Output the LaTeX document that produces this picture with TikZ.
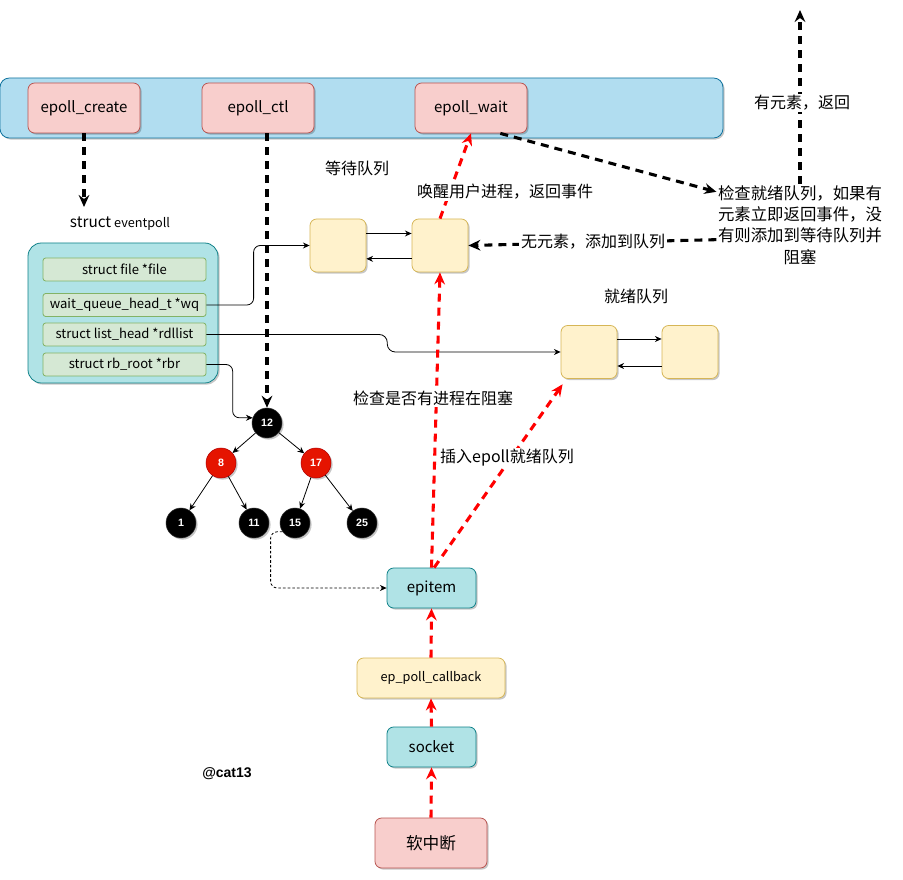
\documentclass[tikz,border=0pt]{standalone}
\usepackage{fontspec}
\setmainfont{Noto Sans CJK SC}
\setsansfont{Liberation Sans}
\usepackage{tikz}
\usetikzlibrary{arrows.meta, positioning, shadows}
\definecolor{barblue}{HTML}{B1DDF0}
\definecolor{barline}{HTML}{10739E}
\definecolor{fnpink}{HTML}{F8CECC}
\definecolor{fnline}{HTML}{B85450}
\definecolor{itcyan}{HTML}{B0E3E6}
\definecolor{itline}{HTML}{0E8088}
\definecolor{qyellow}{HTML}{FFF2CC}
\definecolor{qline}{HTML}{D6B656}
\definecolor{fdgreen}{HTML}{D5E8D4}
\definecolor{fdline}{HTML}{82B366}
\definecolor{rbred}{HTML}{E51400}
\definecolor{rbredline}{HTML}{B20000}

\tikzset{
  softshadow/.style={drop shadow={shadow xshift=1.2pt, shadow yshift=-1.2pt, opacity=0.22, fill=black}},
  box/.style={rectangle, rounded corners=5pt, inner sep=0pt, line width=0.6pt, softshadow},
  barbox/.style={box, rounded corners=7pt, fill=barblue, draw=barline, minimum width=542.25pt, minimum height=45pt},
  fnbox/.style={box, fill=fnpink, draw=fnline, minimum width=84pt, minimum height=37.5pt, font=\fontsize{11.25pt}{13pt}\selectfont},
  itbox/.style={box, fill=itcyan, draw=itline, minimum width=66.75pt, minimum height=30pt, font=\fontsize{11.25pt}{13pt}\selectfont},
  cbbox/.style={box, fill=qyellow, draw=qline, minimum width=111pt, minimum height=30pt, font=\fontsize{9.5pt}{11pt}\selectfont},
  qbox/.style={box, fill=qyellow, draw=qline, minimum width=42pt, minimum height=39.75pt},
  epbox/.style={box, rounded corners=10pt, fill=itcyan, draw=itline, minimum width=142.5pt, minimum height=105pt},
  fdbox/.style={rectangle, rounded corners=2pt, inner sep=0pt, line width=0.6pt, fill=fdgreen, draw=fdline, minimum width=122.25pt, minimum height=17.25pt, font=\fontsize{9.8pt}{11pt}\selectfont},
  rbnode/.style={circle, inner sep=0pt, minimum size=22.5pt, fill=black, draw=black!80, text=white, font=\sffamily\bfseries\fontsize{8pt}{9pt}\selectfont, softshadow},
  rednode/.style={rbnode, fill=rbred, draw=rbredline},
  lbl/.style={fill=white, inner sep=1.2pt, font=\fontsize{12pt}{15pt}\selectfont},
  plain/.style={font=\fontsize{12pt}{15pt}\selectfont},
  blkdash/.style={line width=2.3pt, dash pattern=on 6pt off 4.5pt, -{Stealth[length=9pt, width=8pt, inset=3pt]}},
  reddash/.style={blkdash, red},
  thin/.style={line width=0.6pt, -{Stealth[length=5pt, width=4.5pt]}}
}

\begin{document}
\begin{tikzpicture}[x=0.75pt, y=-0.75pt]
  \useasboundingbox (0,0) rectangle (903,880);

  % syscall bar
  \node[barbox] (bar) at (361.5,108) {};
  \node[fnbox] (create) at (84,108) {epoll\_create};
  \node[fnbox] (ctl) at (258,108) {epoll\_ctl};
  \node[fnbox] (wait) at (471,108) {epoll\_wait};

  % struct eventpoll
  \node (title) at (120,224) {{\fontsize{11.5pt}{13pt}\selectfont struct} {\fontsize{9.5pt}{11pt}\selectfont eventpoll}};
  \node[epbox] (ep) at (123,313) {};
  \node[fdbox] (file) at (124.5,269.5) {struct file *file};
  \node[fdbox] (wq) at (124.5,305) {wait\_queue\_head\_t *wq};
  \node[fdbox] (rdl) at (124.5,334.5) {struct list\_head *rdllist};
  \node[fdbox] (rbr) at (124.5,364.5) {struct rb\_root *rbr};
  \coordinate (createend) at (84,207);

  % rb tree
  \node[rbnode] (n12) at (267,423) {12};
  \node[rednode] (n8) at (221,463) {8};
  \node[rednode] (n17) at (316,463) {17};
  \node[rbnode] (n1) at (181,523) {1};
  \node[rbnode] (n11) at (254,523) {11};
  \node[rbnode] (n15) at (295,523) {15};
  \node[rbnode] (n25) at (362,523) {25};

  % queues
  \node[plain] (wqtitle) at (357,168) {等待队列};
  \node[qbox] (wait1) at (338,245.5) {};
  \node[qbox] (wait2) at (440,245.5) {};
  \node[plain] (rdytitle) at (636,296) {就绪队列};
  \node[qbox] (rdy1) at (589,352) {};
  \node[qbox] (rdy2) at (690,352) {};

  % callback chain
  \node[itbox] (epitem) at (431.5,588) {epitem};
  \node[cbbox] (cb) at (431,678) {ep\_poll\_callback};
  \node[itbox] (socket) at (431.5,747) {socket};
  \node[fnbox, font=\fontsize{12.5pt}{14pt}\selectfont] (irq) at (431,843) {软中断};
  \node[font=\sffamily\bfseries\fontsize{10.5pt}{12pt}\selectfont] (sign) at (227,774) {@cat13};

  % check text
  \node[align=center, inner sep=1pt, fill=white, font=\fontsize{12.3pt}{16pt}\selectfont] (chk) at (800,225)
    {检查就绪队列，如果有\\元素立即返回事件，没\\有则添加到等待队列并\\阻塞};
  \coordinate (upend) at (800,10);

  % black dashed
  \draw[blkdash] (create.south) -- (createend);
  \draw[blkdash] (ctl.south -| n12) -- (n12.north);
  \draw[blkdash] ([xshift=22pt]wait.south) -- ([yshift=-6pt]chk.north west);
  \draw[blkdash] (chk.north) -- (upend);
  \draw[blkdash] ([yshift=-11pt]chk.west) -- (wait2.east);

  % thin links
  \draw[thin, rounded corners=5pt] (wq.east) -| ([xshift=-42pt]wait1.west) -- (wait1.west);
  \draw[thin, rounded corners=6pt] (rdl.east) -| ([xshift=-130pt]rdy1.west) -- (rdy1.west);
  \draw[thin, rounded corners=5pt] (rbr.east) -| ([xshift=-15pt]n12.160) -- (n12.160);
  \draw[thin, dash pattern=on 2pt off 1.5pt, rounded corners=5pt] (n15.215) -| ([xshift=-87pt]epitem.west) -- (epitem.west);
  \draw[thin] ([yshift=9pt]wait1.east) -- ([yshift=9pt]wait2.west);
  \draw[thin] ([yshift=-10pt]wait2.west) -- ([yshift=-10pt]wait1.east);
  \draw[thin] ([yshift=9.75pt]rdy1.east) -- ([yshift=9.75pt]rdy2.west);
  \draw[thin] ([yshift=-10.5pt]rdy2.west) -- ([yshift=-10.5pt]rdy1.east);
  \foreach \p/\c in {n12/n8, n12/n17, n8/n1, n8/n11, n17/n15, n17/n25}
    \draw[thin] (\p) -- (\c);

  % red dashed
  \draw[reddash] (irq.north) -- (socket.south);
  \draw[reddash] (socket.north) -- (cb.south);
  \draw[reddash] (cb.north) -- (epitem.south);
  \draw[reddash] (epitem.north) -- (wait2.south);
  \draw[reddash] ([xshift=2pt]epitem.north) -- ([xshift=1.5pt,yshift=-4pt]rdy1.south west);
  \draw[reddash] (wait2.north) -- (wait.south);

  % labels
  \node[lbl] (wakelbl) at (505,192) {唤醒用户进程，返回事件};
  \node[lbl] (emptylbl) at (593,242) {无元素，添加到队列};
  \node[lbl] (retlbl) at (802,103) {有元素，返回};
  \node[lbl] (blocklbl) at (433,398) {检查是否有进程在阻塞};
  \node[lbl] (insertlbl) at (507,458) {插入epoll就绪队列};
\end{tikzpicture}
\end{document}
